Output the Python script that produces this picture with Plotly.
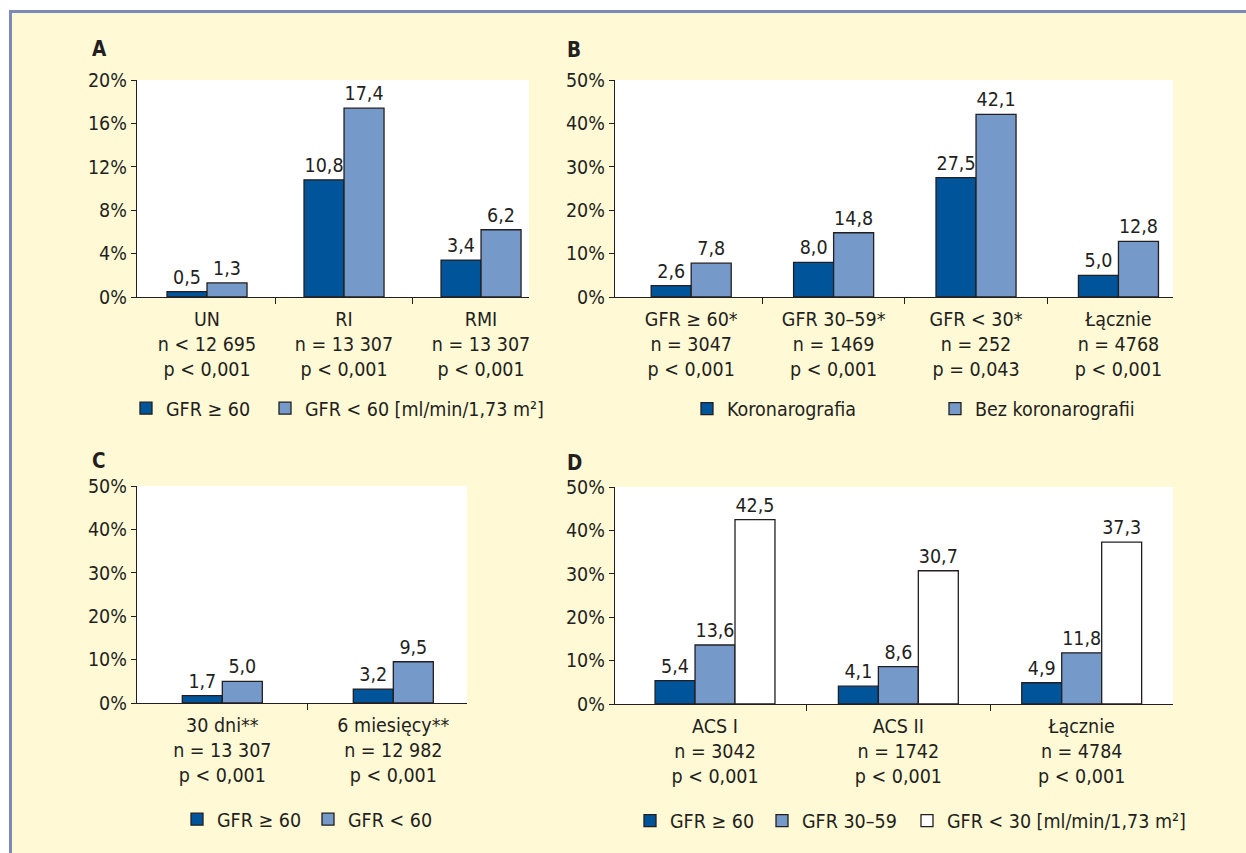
import plotly.graph_objects as go

W, H = 1246, 853

# ---------------- data ----------------
a_cats = ["UN<br>n < 12 695<br>p < 0,001", "RI<br>n = 13 307<br>p < 0,001", "RMI<br>n = 13 307<br>p < 0,001"]
a_gfr_ge60 = [0.5, 10.8, 3.4]
a_gfr_lt60 = [1.3, 17.4, 6.2]
a_ticks = [0, 4, 8, 12, 16, 20]

b_cats = ["GFR ≥ 60*<br>n = 3047<br>p < 0,001", "GFR 30–59*<br>n = 1469<br>p < 0,001",
          "GFR < 30*<br>n = 252<br>p = 0,043", "Łącznie<br>n = 4768<br>p < 0,001"]
b_koro = [2.6, 8.0, 27.5, 5.0]
b_bez = [7.8, 14.8, 42.1, 12.8]

c_cats = ["30 dni**<br>n = 13 307<br>p < 0,001", "6 miesięcy**<br>n = 12 982<br>p < 0,001"]
c_gfr_ge60 = [1.7, 3.2]
c_gfr_lt60 = [5.0, 9.5]

d_cats = ["ACS I<br>n = 3042<br>p < 0,001", "ACS II<br>n = 1742<br>p < 0,001", "Łącznie<br>n = 4784<br>p < 0,001"]
d_gfr_ge60 = [5.4, 4.1, 4.9]
d_gfr_30_59 = [13.6, 8.6, 11.8]
d_gfr_lt30 = [42.5, 30.7, 37.3]
ticks_50 = [0, 10, 20, 30, 40, 50]

panel_letters = ["A", "B", "C", "D"]

# ---------------- style ----------------
FONT = "Liberation Sans Narrow, DejaVu Sans Condensed, sans-serif"
TXT = "#231f20"
DARK = "#00559a"
LIGHT = "#7599c8"
WHITE = "#ffffff"
BG = "#fff9d5"
FRAME = "#7b8ab8"
FS = 19.5


def fmt(vals):
    return [f"{v:.1f}".replace(".", ",") for v in vals]


def px_x(p):
    return p / W


def px_y(p):
    return 1 - p / H


fig = go.Figure()
legend_defs = {}
leg_counter = [0]


def add_bar(vals, color, name, xa, ya, width, offset, leg_text_x, leg_y):
    leg_counter[0] += 1
    key = "legend" if leg_counter[0] == 1 else f"legend{leg_counter[0]}"
    legend_defs[key] = dict(
        orientation="h", x=px_x(leg_text_x - 40), y=px_y(leg_y), xanchor="left", yanchor="middle",
        bgcolor="rgba(0,0,0,0)", borderwidth=0,
        font=dict(family=FONT, size=FS, color=TXT), itemclick=False, itemdoubleclick=False)
    fig.add_trace(go.Bar(
        x=list(range(len(vals))), y=vals, name=name,
        marker=dict(color=color, line=dict(color=TXT, width=1.3)),
        width=width, offset=offset,
        text=fmt(vals), textposition="outside", cliponaxis=False,
        textfont=dict(family=FONT, size=FS, color=TXT),
        xaxis=xa, yaxis=ya, legend=key, showlegend=True,
        hoverinfo="skip",
    ))


# Panel A
wA = 0.292
add_bar(a_gfr_ge60, DARK, "GFR ≥ 60", "x", "y", wA, -wA, 166, 408.5)
add_bar(a_gfr_lt60, LIGHT, "GFR < 60 [ml/min/1,73 m²]", "x", "y", wA, 0, 305, 408.5)
# Panel B
wB = 0.281
add_bar(b_koro, DARK, "Koronarografia", "x2", "y2", wB, -wB, 727, 409)
add_bar(b_bez, LIGHT, "Bez koronarografii", "x2", "y2", wB, 0, 975, 409)
# Panel C
wC = 0.234
add_bar(c_gfr_ge60, DARK, "GFR ≥ 60", "x3", "y3", wC, -wC, 217, 819.5)
add_bar(c_gfr_lt60, LIGHT, "GFR < 60", "x3", "y3", wC, 0, 348, 819.5)
# Panel D
wD = 0.218
add_bar(d_gfr_ge60, DARK, "GFR ≥ 60", "x4", "y4", wD, -1.5 * wD, 670, 821)
add_bar(d_gfr_30_59, LIGHT, "GFR 30–59", "x4", "y4", wD, -0.5 * wD, 802, 821)
add_bar(d_gfr_lt30, WHITE, "GFR < 30 [ml/min/1,73 m²]", "x4", "y4", wD, 0.5 * wD, 947, 821)


def xaxis(dom, rng, cats, anchor):
    n = len(cats)
    return dict(
        domain=[px_x(dom[0]), px_x(dom[1])], range=rng, anchor=anchor, automargin=False,
        tickmode="array", tickvals=list(range(n)), ticktext=cats,
        ticks="outside", ticklen=4, tickcolor="rgba(0,0,0,0)",
        minor=dict(tickmode="array", tickvals=[i + 0.5 for i in range(n - 1)],
                   ticks="outside", ticklen=6, tickcolor=TXT, tickwidth=1.3, showgrid=False),
        showline=True, linecolor=TXT, linewidth=1.3, showgrid=False, zeroline=False,
        tickfont=dict(family=FONT, size=FS, color=TXT), fixedrange=True,
    )


def yaxis(dom, tv, anchor):
    return dict(
        domain=[px_y(dom[1]), px_y(dom[0])], range=[tv[0], tv[-1]], anchor=anchor, automargin=False,
        tickmode="array", tickvals=tv, ticktext=[f"{t}%" for t in tv],
        ticks="outside", ticklen=5, tickcolor=TXT, tickwidth=1.3,
        showline=True, linecolor=TXT, linewidth=1.3, showgrid=False, zeroline=False,
        tickfont=dict(family=FONT, size=FS, color=TXT), fixedrange=True,
    )


fig.update_layout(
    width=W, height=H, margin=dict(l=0, r=0, t=0, b=0, autoexpand=False),
    paper_bgcolor=BG, plot_bgcolor=WHITE, barmode="overlay",
    font=dict(family=FONT, size=FS, color=TXT),
    xaxis=xaxis((137, 529), [-0.511, 2.350], a_cats, "y"),
    yaxis=yaxis((80, 297), a_ticks, "x"),
    xaxis2=xaxis((615, 1173), [-0.535, 3.383], b_cats, "y2"),
    yaxis2=yaxis((80, 297), ticks_50, "x2"),
    xaxis3=xaxis((137, 467), [-0.499, 1.431], c_cats, "y3"),
    yaxis3=yaxis((486, 703), ticks_50, "x3"),
    xaxis4=xaxis((615, 1173), [-0.5455, 2.498], d_cats, "y4"),
    yaxis4=yaxis((487, 704), ticks_50, "x4"),
    showlegend=True,
    **legend_defs,
)

# frame: white margins at top/left and blue-grey border
fig.add_shape(type="rect", xref="paper", yref="paper", x0=0, x1=1, y0=px_y(11), y1=1,
              fillcolor="white", line_width=0, layer="below")
fig.add_shape(type="rect", xref="paper", yref="paper", x0=0, x1=px_x(10), y0=0, y1=1,
              fillcolor="white", line_width=0, layer="below")
fig.add_shape(type="line", xref="paper", yref="paper", x0=px_x(10), x1=1, y0=px_y(11.5), y1=px_y(11.5),
              line=dict(color=FRAME, width=3), layer="below")
fig.add_shape(type="line", xref="paper", yref="paper", x0=px_x(10.5), x1=px_x(10.5), y0=0, y1=px_y(10),
              line=dict(color=FRAME, width=3), layer="below")

# panel letters
for letter, (lx, ly) in zip(panel_letters, [(90, 49), (565, 50), (90, 461), (565, 463)]):
    fig.add_annotation(text=f"<b>{letter}</b>", xref="paper", yref="paper", x=px_x(lx), y=px_y(ly),
                       xanchor="left", yanchor="middle", showarrow=False,
                       font=dict(family=FONT, size=FS + 1, color=TXT))

fig.write_html("out.html", include_plotlyjs=True, full_html=True,
               config={"displayModeBar": False},
               post_script="document.body.style.margin='0';document.body.style.overflow='hidden';")
